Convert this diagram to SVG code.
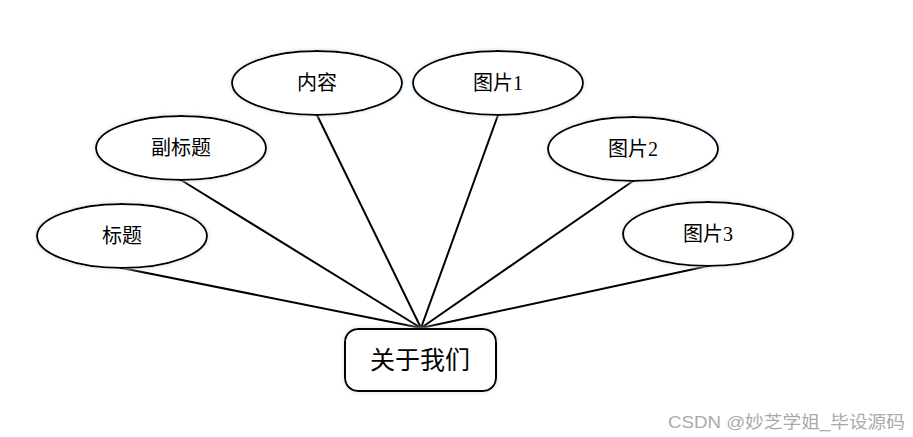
<svg xmlns="http://www.w3.org/2000/svg" width="913" height="437" viewBox="0 0 913 437">
<style>
.n{fill:#fff;stroke:#000;stroke-width:2}
.t{font-family:"Liberation Serif","Noto Sans CJK SC",serif;font-size:20px;fill:#000;text-anchor:middle;dominant-baseline:central}
.c line{stroke:#000;stroke-width:2}
.wm{font-family:"Liberation Sans","Noto Sans CJK SC",sans-serif;font-size:17px;fill:#aaa}
</style>
<defs>
<filter id="g" x="-10%" y="-20%" width="120%" height="140%">
<feGaussianBlur in="SourceAlpha" stdDeviation="2"/>
<feFlood flood-color="#cfe0f5"/>
<feComposite operator="in" in2="SourceAlpha"/>
<feGaussianBlur stdDeviation="2"/>
<feMerge><feMergeNode/><feMergeNode in="SourceGraphic"/></feMerge>
</filter>
</defs>
<rect width="913" height="437" fill="#fff"/>
<g class="c">
<line x1="421" y1="328" x2="122" y2="268"/>
<line x1="421" y1="328" x2="181" y2="180"/>
<line x1="421" y1="328" x2="317" y2="115"/>
<line x1="421" y1="328" x2="498" y2="115"/>
<line x1="421" y1="328" x2="633" y2="181"/>
<line x1="421" y1="328" x2="708" y2="266"/>
</g>
<g id="biaoti"><ellipse class="n" filter="url(#g)" cx="122" cy="236" rx="85" ry="32"/><text class="t" x="122" y="236">标题</text></g>
<g id="fubiaoti"><ellipse class="n" filter="url(#g)" cx="181" cy="148" rx="85" ry="32"/><text class="t" x="181" y="148">副标题</text></g>
<g id="neirong"><ellipse class="n" filter="url(#g)" cx="317" cy="83" rx="85" ry="32"/><text class="t" x="317" y="83">内容</text></g>
<g id="tupian1"><ellipse class="n" filter="url(#g)" cx="498" cy="83" rx="85" ry="32"/><text class="t" x="498" y="83">图片1</text></g>
<g id="tupian2"><ellipse class="n" filter="url(#g)" cx="633" cy="149" rx="85" ry="32"/><text class="t" x="633" y="149">图片2</text></g>
<g id="tupian3"><ellipse class="n" filter="url(#g)" cx="708" cy="234" rx="85" ry="32"/><text class="t" x="708" y="234">图片3</text></g>
<g id="guanyuwomen"><rect class="n" filter="url(#g)" x="345" y="329" width="151" height="62" rx="13"/><text class="t" x="420" y="360" style="font-size:25px">关于我们</text></g>
<text class="wm" x="668" y="428" textLength="237" lengthAdjust="spacingAndGlyphs">CSDN @妙芝学姐_毕设源码</text>
</svg>
